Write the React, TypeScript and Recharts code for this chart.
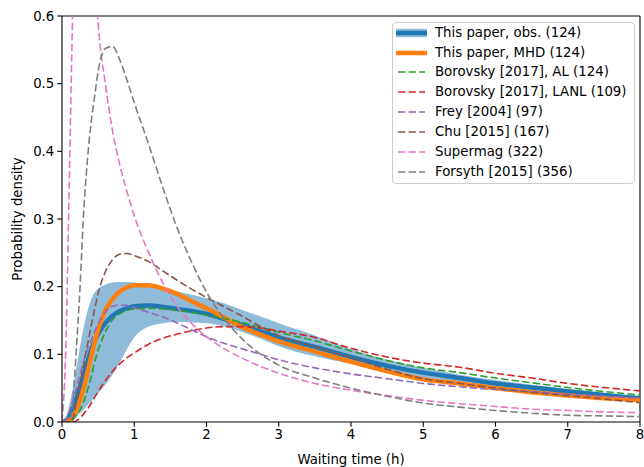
import { Area, ComposedChart, Label, Line, ReferenceLine, XAxis, YAxis } from "recharts";

// waiting time grid (hours)
const hours = [0, 0.05, 0.1, 0.15, 0.2, 0.25, 0.3, 0.35, 0.4, 0.45, 0.5, 0.6, 0.7, 0.8, 0.9, 1.0, 1.2, 1.4, 1.6, 1.8, 2.0, 2.25, 2.5, 2.75, 3.0, 3.5, 4.0, 4.5, 5.0, 5.5, 6.0, 6.5, 7.0, 7.5, 8.0];

const obsFit = [0, 0.002, 0.008, 0.02, 0.035, 0.052, 0.07, 0.088, 0.105, 0.119, 0.13, 0.146, 0.157, 0.164, 0.168, 0.171, 0.172, 0.17, 0.167, 0.164, 0.16, 0.152, 0.143, 0.134, 0.125, 0.111, 0.096, 0.083, 0.073, 0.065, 0.057, 0.051, 0.045, 0.04, 0.035];
const obsLow = [0, 0, 0.001, 0.004, 0.008, 0.013, 0.018, 0.024, 0.03, 0.036, 0.042, 0.055, 0.07, 0.088, 0.108, 0.125, 0.141, 0.146, 0.148, 0.147, 0.146, 0.141, 0.133, 0.123, 0.112, 0.097, 0.086, 0.076, 0.066, 0.057, 0.05, 0.044, 0.039, 0.035, 0.032];
const obsHigh = [0, 0.005, 0.025, 0.05, 0.08, 0.112, 0.14, 0.163, 0.18, 0.191, 0.197, 0.203, 0.206, 0.207, 0.207, 0.206, 0.203, 0.198, 0.193, 0.188, 0.183, 0.175, 0.165, 0.156, 0.146, 0.128, 0.108, 0.092, 0.08, 0.07, 0.062, 0.055, 0.049, 0.043, 0.038];
const mhd = [0, 0, 0.002, 0.008, 0.018, 0.032, 0.05, 0.072, 0.095, 0.117, 0.136, 0.165, 0.182, 0.193, 0.199, 0.202, 0.202, 0.197, 0.189, 0.178, 0.168, 0.154, 0.14, 0.129, 0.119, 0.104, 0.089, 0.075, 0.063, 0.057, 0.05, 0.044, 0.039, 0.035, 0.0325];
const borovskyAL = [0, 0, 0, 0.003, 0.01, 0.018, 0.03, 0.046, 0.065, 0.088, 0.106, 0.133, 0.151, 0.16, 0.165, 0.167, 0.168, 0.167, 0.165, 0.162, 0.158, 0.153, 0.147, 0.14, 0.1325, 0.12, 0.105, 0.091, 0.08, 0.073, 0.065, 0.058, 0.051, 0.045, 0.04];
const borovskyLANL = [0, 0, 0, 0, 0.002, 0.006, 0.012, 0.019, 0.027, 0.036, 0.045, 0.061, 0.075, 0.086, 0.095, 0.102, 0.115, 0.124, 0.13, 0.135, 0.139, 0.141, 0.141, 0.139, 0.1345, 0.125, 0.109, 0.096, 0.087, 0.081, 0.072, 0.065, 0.057, 0.051, 0.046];
const frey = [0, 0.003, 0.015, 0.032, 0.05, 0.07, 0.09, 0.106, 0.12, 0.133, 0.145, 0.163, 0.171, 0.173, 0.172, 0.169, 0.162, 0.155, 0.146, 0.136, 0.126, 0.116, 0.108, 0.1, 0.092, 0.08, 0.071, 0.064, 0.057, 0.052, 0.048, 0.045, 0.041, 0.038, 0.035];
const chu = [0, 0, 0, 0.005, 0.03, 0.057, 0.085, 0.113, 0.14, 0.166, 0.19, 0.222, 0.24, 0.248, 0.249, 0.246, 0.237, 0.223, 0.209, 0.196, 0.184, 0.17, 0.156, 0.141, 0.128, 0.111, 0.095, 0.078, 0.064, 0.057, 0.05, 0.044, 0.039, 0.034, 0.0285];
const supermag = [0, 0.1, 0.35, 0.62, 0.85, 0.95, 0.95, 0.87, 0.77, 0.68, 0.59, 0.5, 0.43, 0.38, 0.34, 0.305, 0.25, 0.205, 0.17, 0.145, 0.126, 0.108, 0.094, 0.082, 0.072, 0.057, 0.047, 0.039, 0.032, 0.027, 0.023, 0.019, 0.017, 0.015, 0.0138];
const forsyth = [0, 0, 0, 0.03, 0.11, 0.2, 0.31, 0.385, 0.44, 0.48, 0.518, 0.552, 0.555, 0.535, 0.505, 0.472, 0.41, 0.345, 0.285, 0.235, 0.192, 0.152, 0.122, 0.1, 0.084, 0.065, 0.05, 0.038, 0.028, 0.022, 0.017, 0.013, 0.01, 0.009, 0.008];

const xTicks = [0, 1, 2, 3, 4, 5, 6, 7, 8];
const yTicks = [0, 0.1, 0.2, 0.3, 0.4, 0.5, 0.6];

const dashed = [
  { key: "al", name: "Borovsky [2017], AL (124)", color: "#2ca02c" },
  { key: "lanl", name: "Borovsky [2017], LANL (109)", color: "#d62728" },
  { key: "frey", name: "Frey [2004] (97)", color: "#9467bd" },
  { key: "chu", name: "Chu [2015] (167)", color: "#8c564b" },
  { key: "supermag", name: "Supermag (322)", color: "#e377c2" },
  { key: "forsyth", name: "Forsyth [2015] (356)", color: "#7f7f7f" },
];

const data = hours.map((h, i) => ({
  hour: h,
  band: [obsLow[i], obsHigh[i]],
  obs: obsFit[i],
  mhd: mhd[i],
  al: borovskyAL[i],
  lanl: borovskyLANL[i],
  frey: frey[i],
  chu: chu[i],
  supermag: supermag[i],
  forsyth: forsyth[i],
}));

const font = "'DejaVu Sans', sans-serif";
const DASH = "7.4 3.2";

function LegendBox() {
  const rows = [
    { name: "This paper, obs. (124)", kind: "obs", color: "#1f77b4" },
    { name: "This paper, MHD (124)", kind: "mhd", color: "#ff7f0e" },
    ...dashed.map((d) => ({ name: d.name, kind: "dash", color: d.color })),
  ];
  return (
    <div
      style={{
        position: "absolute",
        left: 392,
        top: 22,
        width: 243,
        height: 162,
        boxSizing: "border-box",
        border: "1px solid #cccccc",
        borderRadius: 4,
        background: "rgba(255,255,255,0.8)",
        fontFamily: font,
        fontSize: 13.3,
        color: "#000",
      }}
    >
      {rows.map((r, i) => (
        <div key={r.name} style={{ position: "absolute", left: 0, top: 2.7 + i * 19.86, height: 14, width: 240 }}>
          <svg width={34} height={14} style={{ position: "absolute", left: 2, top: 0 }}>
            {r.kind === "obs" && <rect x={1} y={2.8} width={31} height={8.4} fill="#8fbbd9" />}
            {r.kind !== "dash" ? (
              <line x1={1} x2={32} y1={7} y2={7} stroke={r.color} strokeWidth={4.5} />
            ) : (
              <line x1={3} x2={30} y1={7} y2={7} stroke={r.color} strokeWidth={1.6} strokeDasharray={DASH} />
            )}
          </svg>
          <span style={{ position: "absolute", left: 42, top: 0, lineHeight: "14px", whiteSpace: "nowrap" }}>{r.name}</span>
        </div>
      ))}
    </div>
  );
}

export default function App() {
  return (
    <div style={{ position: "absolute", left: 0, top: 0, width: 644, height: 467, background: "#fff" }}>
      <ComposedChart width={644} height={467} data={data} margin={{ top: 16, right: 4, bottom: 0, left: 0 }}>
        <XAxis
          dataKey="hour"
          type="number"
          domain={[0, 8]}
          ticks={xTicks}
          allowDataOverflow
          height={45}
          stroke="#000"
          strokeWidth={1.1}
          tickSize={4.7}
          tickMargin={3}
          tick={{ fill: "#000", fontSize: 13.3, fontFamily: font }}
        >
          <Label value="Waiting time (h)" position="insideBottom" offset={3} style={{ fill: "#000", fontSize: 13.3, fontFamily: font }} />
        </XAxis>
        <YAxis
          type="number"
          domain={[0, 0.6]}
          ticks={yTicks}
          allowDataOverflow
          width={62}
          stroke="#000"
          strokeWidth={1.1}
          tickSize={4.7}
          tickMargin={3}
          tickFormatter={(v: number) => v.toFixed(1)}
          tick={{ fill: "#000", fontSize: 13.3, fontFamily: font }}
        >
          <Label
            content={() => (
              <text
                x={17}
                y={219}
                transform="rotate(-90 17 219)"
                textAnchor="middle"
                dominantBaseline="central"
                style={{ fill: "#000", fontSize: 13.3, fontFamily: font }}
              >
                Probability density
              </text>
            )}
          />
        </YAxis>
        <ReferenceLine y={0.6} stroke="#000" strokeWidth={1.1} />
        <ReferenceLine x={8} stroke="#000" strokeWidth={1.1} />
        <Area dataKey="band" type="monotone" stroke="none" fill="#8fbbd9" fillOpacity={1} isAnimationActive={false} />
        <Line dataKey="obs" type="monotone" stroke="#1f77b4" strokeWidth={4.5} dot={false} activeDot={false} isAnimationActive={false} />
        <Line dataKey="mhd" type="monotone" stroke="#ff7f0e" strokeWidth={4.5} dot={false} activeDot={false} isAnimationActive={false} />
        {dashed.map((d) => (
          <Line
            key={d.key}
            dataKey={d.key}
            name={d.name}
            type="monotone"
            stroke={d.color}
            strokeWidth={1.6}
            strokeDasharray={DASH}
            dot={false}
            activeDot={false}
            isAnimationActive={false}
          />
        ))}
      </ComposedChart>
      <LegendBox />
    </div>
  );
}
